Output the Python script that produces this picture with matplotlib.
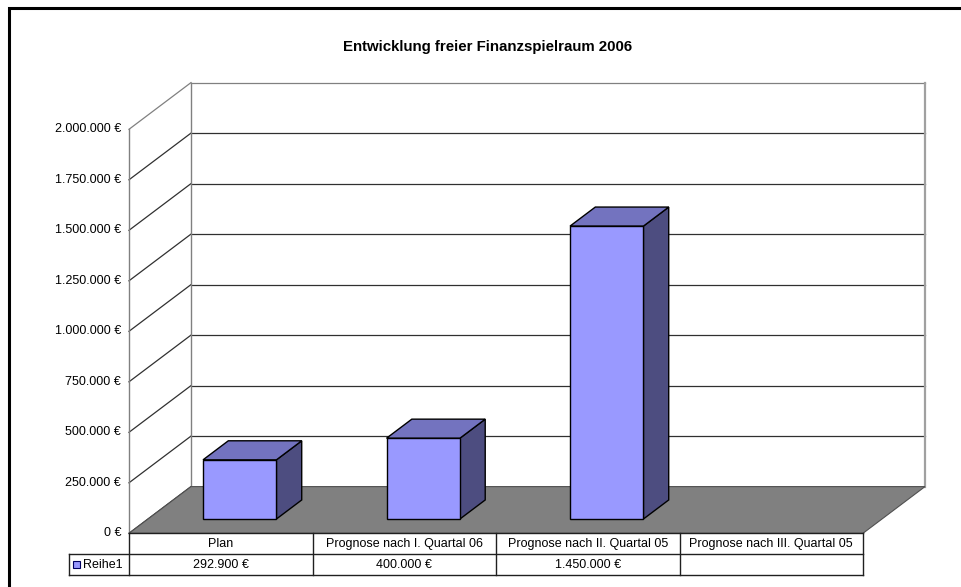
import matplotlib
matplotlib.use("Agg")
from matplotlib import pyplot as plt
from matplotlib.patches import Polygon, Rectangle

plt.rcParams["font.family"] = ["Liberation Sans", "DejaVu Sans"]

# chart data
title = "Entwicklung freier Finanzspielraum 2006"
categories = ["Plan", "Prognose nach I. Quartal 06",
              "Prognose nach II. Quartal 05", "Prognose nach III. Quartal 05"]
series_name = "Reihe1"
values = [292900, 400000, 1450000, None]
y_ticks = [0, 250000, 500000, 750000, 1000000, 1250000, 1500000, 1750000, 2000000]
y_max = 2000000

W, H = 962, 587
# pixel layout of the plot's front plane
X0_PX, CAT_PX = 129.0, 183.5
Y0_PX, VAL_PX = 533.3, 404.0 / y_max
# oblique depth offset of the 3d walls, in data units
DX = 62.0 / CAT_PX
DY = 46.7 / VAL_PX
BAR_FRONT, BAR_BACK = 0.306, 0.714
BAR_W = 0.4

FACE, TOP, SIDE = "#9999ff", "#7373bf", "#4d4d80"
GRID = "#303030"
WALL = "#808080"
FS = 9.0


def px_x(px):
    return (px - X0_PX) / CAT_PX


def px_y(py):
    return (Y0_PX - py) / VAL_PX


def fmt_eur(v):
    return f"{v:,.0f}".replace(",", ".") + " €"


fig = plt.figure(figsize=(W / 100, H / 100), dpi=100)
ax = fig.add_axes([0, 0, 1, 1])
ax.set_xlim(px_x(0), px_x(W))
ax.set_ylim(px_y(H), px_y(0))
ax.axis("off")

n = len(categories)

# outer chart frame
ax.add_patch(Rectangle((px_x(9), px_y(H + 20)), px_x(W + 20) - px_x(9),
                       px_y(8) - px_y(H + 20), fill=False, ec="black", lw=2.2))

ax.text(px_x(488), px_y(47), title, ha="center", va="center",
        fontsize=10.8, fontweight="bold")

# back wall gridlines and side wall diagonals
for t in y_ticks:
    if t > 0:
        ax.plot([DX, n + DX], [t + DY, t + DY], color=WALL if t == y_max else GRID,
                lw=0.9, zorder=1)
    ax.plot([0, DX], [t, t + DY], color=WALL if t == y_max else GRID, lw=0.9, zorder=1)
    ax.text(px_x(121), t, fmt_eur(t), ha="right", va="center", fontsize=FS)

ax.plot([DX, DX], [DY, y_max + DY], color=WALL, lw=1.0, zorder=1)
ax.plot([n + DX, n + DX], [DY, y_max + DY], color="#a0a0a0", lw=1.6, zorder=1)
ax.plot([0, 0], [0, y_max], color=WALL, lw=1.0, zorder=1)

# floor
ax.add_patch(Polygon([(0, 0), (n, 0), (n + DX, DY), (DX, DY)], closed=True,
                     fc="#808080", ec="#505050", lw=0.8, zorder=2))

# 3d columns
for i, v in enumerate(values):
    if v is None:
        continue
    x0 = i + 0.5 - BAR_W / 2
    x1 = i + 0.5 + BAR_W / 2
    fx, fy = BAR_FRONT * DX, BAR_FRONT * DY
    bx, by = BAR_BACK * DX, BAR_BACK * DY
    front = [(x0 + fx, fy), (x1 + fx, fy), (x1 + fx, v + fy), (x0 + fx, v + fy)]
    top = [(x0 + fx, v + fy), (x1 + fx, v + fy), (x1 + bx, v + by), (x0 + bx, v + by)]
    side = [(x1 + fx, fy), (x1 + bx, by), (x1 + bx, v + by), (x1 + fx, v + fy)]
    for pts, col in ((side, SIDE), (top, TOP), (front, FACE)):
        ax.add_patch(Polygon(pts, closed=True, fc=col, ec="black", lw=1.0,
                             joinstyle="miter", zorder=3))

# data table below the plot
row1, row2, row3 = px_y(533.3), px_y(554.3), px_y(575)
tab_left = px_x(69)
line_kw = dict(color="#202020", lw=1.0, zorder=4)
ax.plot([0, n], [row1, row1], **line_kw)
ax.plot([tab_left, n], [row2, row2], **line_kw)
ax.plot([tab_left, n], [row3, row3], **line_kw)
ax.plot([tab_left, tab_left], [row2, row3], **line_kw)
for i in range(n + 1):
    ax.plot([i, i], [row1, row3], **line_kw)

for i, (cat, v) in enumerate(zip(categories, values)):
    ax.text(i + 0.5, (row1 + row2) / 2, cat, ha="center", va="center", fontsize=FS)
    if v is not None:
        ax.text(i + 0.5, (row2 + row3) / 2, fmt_eur(v), ha="center", va="center",
                fontsize=FS)

# legend key in the table
ax.add_patch(Rectangle((px_x(73), px_y(568)), px_x(80) - px_x(73), px_y(561) - px_y(568),
                       fc=FACE, ec="#000060", lw=0.8, zorder=5))
ax.text(px_x(82.5), (row2 + row3) / 2, series_name, ha="left", va="center", fontsize=FS)

fig.savefig("out.png", dpi=100)
